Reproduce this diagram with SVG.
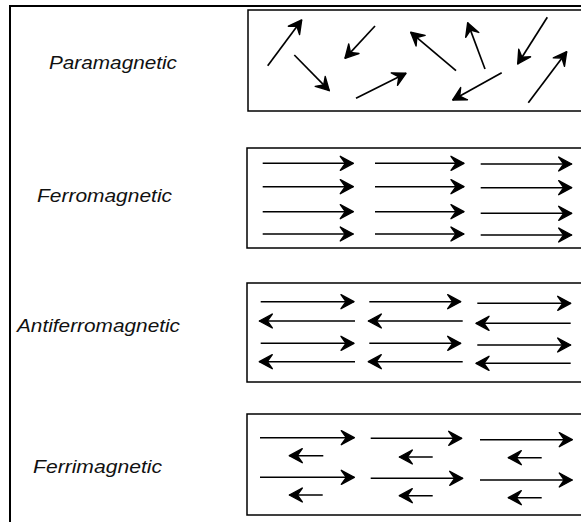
<svg xmlns="http://www.w3.org/2000/svg" width="581" height="522" viewBox="0 0 581 522">
<style>
.frame{fill:none;stroke:#000;stroke-width:2}
.box{fill:none;stroke:#000;stroke-width:1.5}
.lbl{font-family:"Liberation Sans",Arial,sans-serif;font-style:italic;font-size:18.5px;fill:#111}
.a{stroke:#000;stroke-width:1.4;fill:none;marker-end:url(#h)}
.p{stroke:#000;stroke-width:1.7;fill:none;marker-end:url(#h)}
</style>
<defs>
<marker id="h" markerUnits="userSpaceOnUse" viewBox="-17 -10 20 20" markerWidth="20" markerHeight="20" refX="0" refY="0" orient="auto">
<path d="M0,0 L-13,-7 L-8,0 L-13,7 Z" fill="#000" stroke="#000" stroke-width="1.4" stroke-linejoin="round"/>
</marker>
</defs>
<rect width="581" height="522" fill="#fff"/>
<g id="frame">
<path class="frame" d="M10,522 V6 H582"/>
</g>
<g id="paramagnetic">
<text class="lbl" x="49" y="69" textLength="128" lengthAdjust="spacingAndGlyphs">Paramagnetic</text>
<rect class="box" x="248" y="10" width="340" height="101"/>
</g>
<g id="ferromagnetic">
<text class="lbl" x="37" y="202" textLength="135" lengthAdjust="spacingAndGlyphs">Ferromagnetic</text>
<rect class="box" x="247" y="148" width="340" height="100"/>
</g>
<g id="antiferromagnetic">
<text class="lbl" x="17" y="332" textLength="163" lengthAdjust="spacingAndGlyphs">Antiferromagnetic</text>
<rect class="box" x="247" y="283" width="340" height="99"/>
</g>
<g id="ferrimagnetic">
<text class="lbl" x="33" y="473" textLength="129" lengthAdjust="spacingAndGlyphs">Ferrimagnetic</text>
<rect class="box" x="247" y="414" width="340" height="101"/>
</g>
<g id="connectors">
<line class="p" x1="267.7" y1="65.7" x2="301.7" y2="20"/>
<line class="p" x1="375" y1="26" x2="345" y2="58.3"/>
<line class="p" x1="294.3" y1="55" x2="329.3" y2="90.7"/>
<line class="p" x1="356" y1="98.3" x2="406" y2="73.3"/>
<line class="p" x1="456" y1="70.7" x2="410.7" y2="32.3"/>
<line class="p" x1="485" y1="69" x2="467.7" y2="22.7"/>
<line class="p" x1="547.3" y1="17.3" x2="517.7" y2="64"/>
<line class="p" x1="501.7" y1="72.7" x2="452.7" y2="100"/>
<line class="p" x1="528.3" y1="102.7" x2="566.7" y2="51.7"/>
<line class="a" x1="262.7" y1="163.3" x2="353.3" y2="163.3"/>
<line class="a" x1="375" y1="163.3" x2="464" y2="163.3"/>
<line class="a" x1="480.7" y1="164" x2="571.7" y2="164"/>
<line class="a" x1="262.7" y1="186.7" x2="353.3" y2="186.7"/>
<line class="a" x1="375" y1="186.7" x2="464" y2="186.7"/>
<line class="a" x1="480.7" y1="187.7" x2="571.7" y2="187.7"/>
<line class="a" x1="262.7" y1="211.7" x2="353.3" y2="211.7"/>
<line class="a" x1="375" y1="211.7" x2="464" y2="211.7"/>
<line class="a" x1="480.7" y1="213.3" x2="571.7" y2="213.3"/>
<line class="a" x1="262.7" y1="234" x2="353.3" y2="234"/>
<line class="a" x1="375" y1="234" x2="464" y2="234"/>
<line class="a" x1="480.7" y1="235" x2="571.7" y2="235"/>
<line class="a" x1="260.7" y1="301.7" x2="354" y2="301.7"/>
<line class="a" x1="369.3" y1="301.7" x2="460.7" y2="301.7"/>
<line class="a" x1="477.3" y1="303.3" x2="570.7" y2="303.3"/>
<line class="a" x1="355" y1="321" x2="259.3" y2="321"/>
<line class="a" x1="462.7" y1="321" x2="368.3" y2="321"/>
<line class="a" x1="570.7" y1="323.3" x2="476" y2="323.3"/>
<line class="a" x1="260.7" y1="343.3" x2="354" y2="343.3"/>
<line class="a" x1="369.3" y1="343.3" x2="460.7" y2="343.3"/>
<line class="a" x1="477.3" y1="345" x2="570.7" y2="345"/>
<line class="a" x1="355" y1="361.7" x2="259.3" y2="361.7"/>
<line class="a" x1="462.7" y1="361.7" x2="368.3" y2="361.7"/>
<line class="a" x1="570.7" y1="363.3" x2="476" y2="363.3"/>
<line class="a" x1="260" y1="437.7" x2="354.3" y2="437.7"/>
<line class="a" x1="370.7" y1="438.3" x2="461.7" y2="438.3"/>
<line class="a" x1="480" y1="439.7" x2="572.3" y2="439.7"/>
<line class="a" x1="323.3" y1="455.7" x2="289.3" y2="455.7"/>
<line class="a" x1="432.7" y1="457" x2="399.3" y2="457"/>
<line class="a" x1="541.7" y1="457.7" x2="508.3" y2="457.7"/>
<line class="a" x1="260" y1="477.3" x2="354.3" y2="477.3"/>
<line class="a" x1="370.7" y1="478.3" x2="462.7" y2="478.3"/>
<line class="a" x1="480" y1="480" x2="572.3" y2="480"/>
<line class="a" x1="322.7" y1="495" x2="289.3" y2="495"/>
<line class="a" x1="432.7" y1="495.7" x2="399.3" y2="495.7"/>
<line class="a" x1="541.7" y1="497.7" x2="508.3" y2="497.7"/>
</g>
</svg>
